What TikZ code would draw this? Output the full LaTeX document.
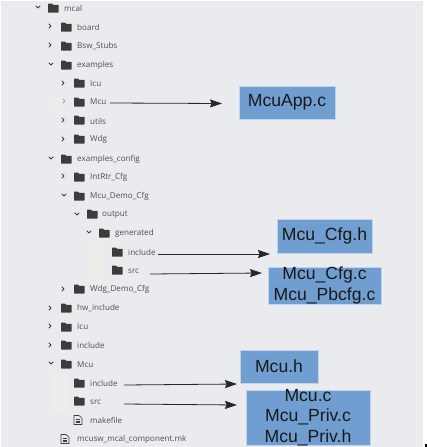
\documentclass[tikz,border=0pt]{standalone}
\usepackage{fontspec}
\setmainfont{Liberation Sans}
\newfontfamily\ubu{Open Sans}
\usetikzlibrary{arrows.meta}
\definecolor{panel}{HTML}{E9EBEE}
\definecolor{patchc}{HTML}{EDEEEC}
\definecolor{boxblue}{HTML}{709ED0}
\definecolor{folderc}{HTML}{3E3C3B}
\definecolor{treetext}{HTML}{4E4E50}
\tikzset{
  x=1pt,y=-1pt,
  tree/.style={anchor=west,inner sep=0pt,text=treetext,font=\ubu\fontsize{8.1}{9}\selectfont},
  label box/.style={fill=boxblue,draw=white!55!boxblue,line width=.5pt,inner sep=-8pt,align=center,text=black!90,font=\fontsize{17.6}{20.3}\selectfont},
  link/.style={draw=black!85,line width=.8pt,-{Stealth[length=12pt,width=8pt,inset=1.5pt]}},
  chev/.style={draw=folderc,line width=.9pt,line cap=round,line join=round},
}
\newcommand{\fold}[2]{%
  \fill[folderc,rounded corners=.4pt] (#1,#2+4.6) -- (#1,#2-4.4) -- (#1+4,#2-4.4) -- (#1+5,#2-3.2) -- (#1+10.5,#2-3.2) -- (#1+10.5,#2+4.6) -- cycle;}
\newcommand{\chopen}[2]{\draw[chev] (#1-2,#2-1) -- (#1,#2+1) -- (#1+2,#2-1);}
\newcommand{\chshut}[2]{\draw[chev] (#1-1,#2-2) -- (#1+1,#2) -- (#1-1,#2+2);}
\newcommand{\filei}[2]{%
  \draw[folderc,line width=.6pt,line join=round] (#1,#2-4.5) -- (#1+5,#2-4.5) -- (#1+8,#2-1.8) -- (#1+8,#2+4.5) -- (#1,#2+4.5) -- cycle;
  \draw[folderc,line width=.6pt] (#1+1.8,#2-1) -- (#1+6,#2-1) (#1+1.8,#2+.8) -- (#1+6,#2+.8) (#1+1.8,#2+2.6) -- (#1+6,#2+2.6);}
\begin{document}
\begin{tikzpicture}
\useasboundingbox (0,0) rectangle (427,447);
\fill[white] (0,0) rectangle (427,447);
\fill[panel] (1,1) rectangle (423,447);
\fill[patchc] (49,97) rectangle (64,112);
\fill[patchc] (88,247) rectangle (104,283);
\fill[patchc] (52,374) rectangle (67,412);
\fill[black] (424.5,444) rectangle (426.5,447);
\chopen{38}{7} \fold{48}{8} \node[tree] (t1) at (64,8.5) {mcal};
\chshut{50}{26} \fold{61}{27} \node[tree] (t2) at (77,27) {board};
\chshut{50}{45} \fold{61}{46} \node[tree] (t3) at (77,46) {Bsw\_Stubs};
\chopen{51}{64} \fold{61}{65} \node[tree] (t4) at (77,65) {examples};
\chshut{63}{83} \fold{74}{83} \node[tree] (t5) at (90,83.5) {Icu};
\begin{scope}[opacity=.4]\chshut{64}{101}\end{scope} \fold{74}{102} \node[tree] (mcua) at (90,102) {Mcu};
\chshut{63}{120} \fold{74}{120} \node[tree] (t7) at (90,121) {utils};
\chshut{63}{139} \fold{74}{139} \node[tree] (t8) at (90,139.5) {Wdg};
\chopen{51}{158} \fold{61}{159} \node[tree] (t9) at (77,159) {examples\_config};
\chshut{63}{176} \fold{74}{177} \node[tree] (t10) at (90,177.5) {IntRtr\_Cfg};
\chopen{64}{195} \fold{74}{196} \node[tree] (t11) at (90,196) {Mcu\_Demo\_Cfg};
\chopen{77}{214} \fold{87}{214} \node[tree] (t12) at (102,215) {output};
\chopen{89}{232} \fold{99}{233} \node[tree] (t13) at (115,233.5) {generated};
\fold{112}{252} \node[tree] (gi) at (128,252) {include};
\fold{112}{270} \node[tree] (gs) at (128,271) {src};
\chshut{63}{289} \fold{74}{289} \node[tree] (t16) at (90,289.5) {Wdg\_Demo\_Cfg};
\chshut{50}{308} \fold{61}{308} \node[tree] (t17) at (77,308) {hw\_include};
\chshut{50}{326} \fold{61}{327} \node[tree] (t18) at (77,327) {Icu};
\chshut{50}{345} \fold{61}{345} \node[tree] (t19) at (77,345.5) {include};
\chopen{51}{363} \fold{61}{364} \node[tree] (t20) at (77,364.5) {Mcu};
\fold{74}{383} \node[tree] (mi) at (90,383) {include};
\fold{74}{401} \node[tree] (ms) at (90,402) {src};
\filei{74}{420} \node[tree] (t23) at (90,420.5) {makefile};
\filei{61}{439} \node[tree] (t24) at (77,439) {mcusw\_mcal\_component.mk};
% boxes
\node[label box,minimum width=96pt,minimum height=33pt] (b1) at (287,102.5) {McuApp.c};
\node[label box,minimum width=95pt,minimum height=34pt] (b2) at (324.5,236) {Mcu\_Cfg.h};
\node[label box,minimum width=113pt,minimum height=37pt] (b3) at (324.5,285.5) {Mcu\_Cfg.c\\Mcu\_Pbcfg.c};
\node[label box,minimum width=78pt,minimum height=33pt] (b4) at (279,366.5) {Mcu.h};
\node[label box,minimum width=124pt,minimum height=55pt] (b5) at (308,417.5) {Mcu.c\\Mcu\_Priv.c\\Mcu\_Priv.h};
% arrows
\coordinate (a1) at (110,103);
\coordinate (e1) at (222,103.5);
\draw[link] (a1) -- (e1);
\coordinate (a2) at (158,254);
\coordinate (e2) at (270,254);
\draw[link] (a2) -- (e2);
\coordinate (a3) at (150,274);
\coordinate (e3) at (262,273);
\draw[link] (a3) -- (e3);
\coordinate (a4) at (124,385);
\coordinate (e4) at (237,384);
\draw[link] (a4) -- (e4);
\coordinate (a5) at (124,404);
\coordinate (e5) at (237,405);
\draw[link] (a5) -- (e5);
\end{tikzpicture}
\end{document}
